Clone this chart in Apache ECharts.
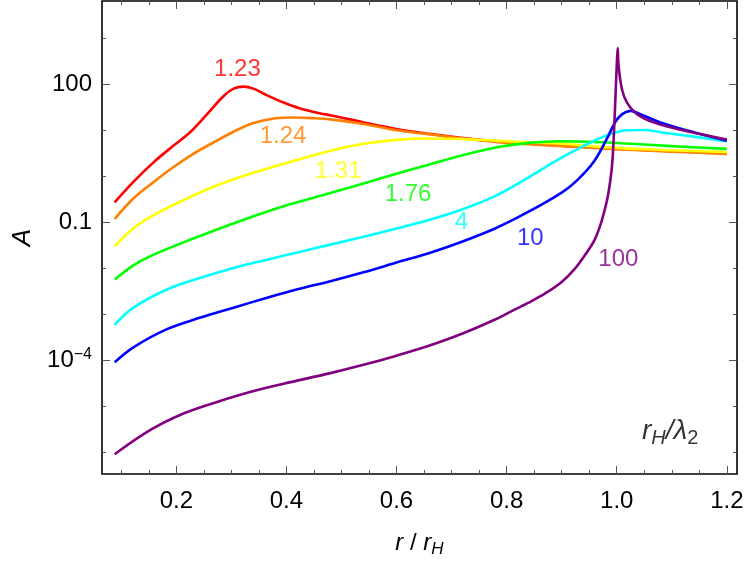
<!DOCTYPE html>
<html>
<head>
<meta charset="utf-8">
<script src="https://cdn.jsdelivr.net/npm/echarts@6/dist/echarts.min.js"></script>
<style>
    html, body { margin: 0; padding: 0; background: #fff; }
    #chart { width: 750px; height: 563px; }
</style>
</head>
<body>
<div id="chart"></div>
<script>
// values are [r/rH, log10 A]
const curve123 = [[0.088,-0.574],[0.122,-0.128],[0.159,0.302],[0.195,0.66],[0.225,0.949],[0.256,1.343],[0.286,1.737],[0.304,1.897],[0.322,1.94],[0.340,1.897],[0.365,1.752],[0.395,1.595],[0.425,1.466],[0.462,1.358],[0.48,1.32],[0.54,1.164],[0.60,1.02],[0.66,0.915],[0.72,0.825],[0.78,0.75],[0.84,0.70],[0.90,0.66],[1.0,0.59],[1.1,0.54],[1.2,0.49]];
const curve124 = [[0.088,-0.934],[0.122,-0.488],[0.159,-0.128],[0.195,0.195],[0.231,0.481],[0.268,0.733],[0.304,0.962],[0.340,1.149],[0.377,1.25],[0.413,1.272],[0.449,1.257],[0.48,1.23],[0.54,1.13],[0.60,0.995],[0.66,0.905],[0.72,0.815],[0.78,0.74],[0.84,0.69],[0.90,0.65],[1.0,0.58],[1.1,0.53],[1.2,0.48]];
const curve131 = [[0.088,-1.529],[0.122,-1.134],[0.159,-0.848],[0.213,-0.525],[0.274,-0.202],[0.334,0.05],[0.395,0.266],[0.48,0.55],[0.54,0.70],[0.60,0.785],[0.66,0.815],[0.72,0.804],[0.78,0.768],[0.84,0.733],[0.90,0.70],[1.0,0.61],[1.1,0.56],[1.2,0.52]];
const curve176 = [[0.088,-2.248],[0.122,-1.94],[0.153,-1.74],[0.213,-1.44],[0.274,-1.16],[0.334,-0.90],[0.395,-0.655],[0.48,-0.37],[0.54,-0.16],[0.60,0.05],[0.66,0.25],[0.72,0.45],[0.78,0.62],[0.84,0.72],[0.90,0.755],[0.95,0.745],[1.0,0.718],[1.1,0.65],[1.2,0.589]];
const curve4 = [[0.088,-3.23],[0.122,-2.858],[0.183,-2.463],[0.244,-2.21],[0.304,-1.996],[0.365,-1.817],[0.42,-1.66],[0.48,-1.49],[0.54,-1.32],[0.60,-1.14],[0.66,-0.95],[0.72,-0.72],[0.78,-0.43],[0.84,-0.03],[0.87,0.19],[0.90,0.40],[0.93,0.59],[0.96,0.77],[0.99,0.92],[1.02,0.995],[1.05,1.0],[1.08,0.95],[1.14,0.855],[1.2,0.75]];
const curve10 = [[0.088,-4.043],[0.122,-3.72],[0.183,-3.325],[0.244,-3.073],[0.304,-2.858],[0.365,-2.642],[0.42,-2.46],[0.48,-2.283],[0.54,-2.09],[0.60,-1.88],[0.66,-1.67],[0.72,-1.421],[0.78,-1.134],[0.84,-0.775],[0.90,-0.36],[0.928,-0.094],[0.958,0.302],[0.982,0.804],[0.997,1.164],[1.01,1.343],[1.025,1.414],[1.043,1.343],[1.079,1.164],[1.14,0.95],[1.2,0.768]];
const curve100 = [[0.088,-6.04],[0.153,-5.514],[0.213,-5.157],[0.274,-4.905],[0.334,-4.689],[0.395,-4.51],[0.48,-4.28],[0.54,-4.10],[0.60,-3.90],[0.66,-3.68],[0.72,-3.42],[0.78,-3.11],[0.81,-2.93],[0.84,-2.75],[0.87,-2.55],[0.90,-2.30],[0.925,-2.0],[0.945,-1.67],[0.96,-1.38],[0.972,-1.0],[0.982,-0.55],[0.988,-0.13],[0.992,0.3],[0.995,0.95],[0.998,1.8],[1.0,2.38],[1.0017,2.78],[1.0035,2.383],[1.0096,1.88],[1.0187,1.595],[1.037,1.343],[1.067,1.164],[1.11,1.02],[1.152,0.912],[1.2,0.79]];

const curves = [curve123, curve124, curve131, curve176, curve4, curve10, curve100];
const curveNames = ['1.23', '1.24', '1.31', '1.76', '4', '10', '100'];
const curveColors = ['#ff0000', '#ff8000', '#ffff00', '#00ff00', '#00ffff', '#0000ff', '#800080'];

// label anchors, same units
const labelX = [0.311, 0.394, 0.494, 0.621, 0.718, 0.843, 1.003];
const labelY = [2.31, 0.85, 0.094, -0.40, -1.005, -1.35, -1.82];

const xMajor = [0.2, 0.4, 0.6, 0.8, 1.0, 1.2];
const xMinor = [0.1, 0.15, 0.25, 0.3, 0.35, 0.45, 0.5, 0.55, 0.65, 0.7, 0.75, 0.85, 0.9, 0.95, 1.05, 1.1, 1.15];
const yMajor = [-4, -1, 2];
const yMinor = [-6, -5, -3, -2, 0, 1, 3];

const X_MIN = 0.065, X_MAX = 1.2185;
const Y_MIN = -6.47, Y_MAX = 3.80;
const FONT = 'Liberation Sans';

function xAxisDef(position, ticks, len, labels) {
    return {
        type: 'value', min: X_MIN, max: X_MAX, position: position,
        axisLine: { show: false, onZero: false },
        splitLine: { show: false },
        axisTick: { inside: true, length: len, customValues: ticks, lineStyle: { color: '#555', width: 1 } },
        axisLabel: labels ? {
            customValues: ticks, margin: 15, color: '#000', fontSize: 24, fontFamily: FONT,
            formatter: v => v.toFixed(1)
        } : { show: false }
    };
}

function yAxisDef(position, ticks, len, labels) {
    return {
        type: 'value', min: Y_MIN, max: Y_MAX, position: position,
        axisLine: { show: false, onZero: false },
        splitLine: { show: false },
        axisTick: { inside: true, length: len, customValues: ticks, lineStyle: { color: '#555', width: 1 } },
        axisLabel: labels ? {
            customValues: ticks, margin: 10, color: '#000', fontSize: 24, fontFamily: FONT,
            formatter: v => {
                if (v === 2) return '100';
                if (v === -1) return '0.1';
                return '10{sup|−4}';
            },
            rich: { sup: { fontSize: 16, fontFamily: FONT, color: '#000', verticalAlign: 'top', padding: [0, 0, 12, 0] } }
        } : { show: false }
    };
}

const chart = echarts.init(document.getElementById('chart'), null, { renderer: 'canvas' });

const titleRich = {
    i: { fontSize: 24, fontStyle: 'italic', fontFamily: FONT, color: '#000' },
    n: { fontSize: 24, fontFamily: FONT, color: '#000' },
    s: { fontSize: 17, fontStyle: 'italic', fontFamily: FONT, color: '#000', padding: [12, 0, 0, 0] }
};
const cornerRich = {
    i: { fontSize: 28, fontStyle: 'italic', fontFamily: FONT, color: '#000' },
    s: { fontSize: 20, fontStyle: 'italic', fontFamily: FONT, color: '#000', padding: [14, 0, 0, 0] },
    d: { fontSize: 20, fontFamily: FONT, color: '#000', padding: [14, 0, 0, 0] }
};

const xAxes = [
    xAxisDef('bottom', xMajor, 8, true),
    xAxisDef('bottom', xMinor, 4, false),
    xAxisDef('top', xMajor, 8, false),
    xAxisDef('top', xMinor, 4, false)
];
xAxes[0].name = '{i|r}{n| / }{i|r}{s|H}';
xAxes[0].nameLocation = 'middle';
xAxes[0].nameGap = 55;
xAxes[0].nameTextStyle = { rich: titleRich };

const yAxes = [
    yAxisDef('left', yMajor, 8, true),
    yAxisDef('left', yMinor, 4, false),
    yAxisDef('right', yMajor, 8, false),
    yAxisDef('right', yMinor, 4, false)
];
yAxes[0].name = 'A';
yAxes[0].nameLocation = 'middle';
yAxes[0].nameGap = 54;
yAxes[0].nameRotate = 90;
yAxes[0].nameTextStyle = { fontSize: 26, fontStyle: 'italic', fontFamily: FONT, color: '#000' };

const series = curves.map((c, i) => ({
    type: 'line',
    name: curveNames[i],
    data: c,
    showSymbol: false,
    smooth: 0.35,
    lineStyle: { color: curveColors[i], width: 2.6 },
    silent: true,
    z: 2 + i
}));

series.push({
    type: 'scatter',
    symbolSize: 1,
    itemStyle: { color: 'rgba(0,0,0,0)' },
    silent: true,
    z: 20,
    data: curveNames.map((n, i) => ({
        value: [labelX[i], labelY[i]],
        label: { show: true, position: 'inside', formatter: n, color: curveColors[i], fontSize: 24, fontFamily: FONT }
    })).concat([{
        value: [1.097, -5.55],
        label: {
            show: true, position: 'inside', color: '#000',
            formatter: '{i|r}{s|H}{i|/λ}{d|2}',
            rich: cornerRich
        }
    }])
});

const option = {
    animation: false,
    grid: {
        left: 102, right: 13, top: 1, bottom: 85,
        show: true, borderColor: '#000', borderWidth: 1.6, backgroundColor: '#fff'
    },
    xAxis: xAxes,
    yAxis: yAxes,
    series: series
};

chart.setOption(option);
</script>
</body>
</html>
